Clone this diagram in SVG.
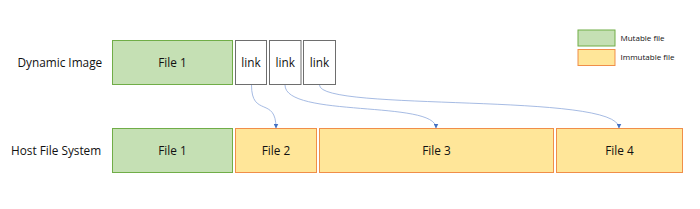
<svg xmlns="http://www.w3.org/2000/svg" width="700" height="209" viewBox="0 0 700 209">
<style>
text{font-family:"Open Sans","Liberation Sans",sans-serif;fill:#111}
.lbl{font-size:11.8px}
.ft{font-size:11.8px;text-anchor:middle}
.mut{fill:#C5E0B4;stroke:#70AD47;stroke-width:1}
.imm{fill:#FFE699;stroke:#ED7D31;stroke-width:1;stroke-opacity:0.85}
.lnk{fill:#fff;stroke:#6e6e6e;stroke-width:1}
.con{fill:none;stroke:#8FAADC;stroke-width:0.8;marker-end:url(#ah)}
.leg{font-size:8px}
</style>
<defs>
<marker id="ah" viewBox="0 0 10 10" refX="9" refY="5" markerWidth="5" markerHeight="5" orient="auto" markerUnits="userSpaceOnUse">
<path d="M0,0 L10,5 L0,10 z" fill="#4472C4"/>
</marker>
</defs>
<rect width="700" height="209" fill="#fff"/>
<text class="lbl" x="17.5" y="67">Dynamic Image</text>
<text class="lbl" x="11" y="155">Host File System</text>
<g id="top-file1"><rect class="mut" x="112.5" y="40.5" width="120" height="44"/><text class="ft" x="172.5" y="66.5">File 1</text></g>
<g id="link1"><rect class="lnk" x="235.5" y="40.5" width="31" height="44"/><text class="ft" x="251" y="66.5">link</text></g>
<g id="link2"><rect class="lnk" x="269.5" y="40.5" width="31.5" height="44"/><text class="ft" x="285.2" y="66.5">link</text></g>
<g id="link3"><rect class="lnk" x="303.5" y="40.5" width="32" height="44"/><text class="ft" x="319.5" y="66.5">link</text></g>
<g id="host-file1"><rect class="mut" x="112.5" y="128.5" width="120" height="44"/><text class="ft" x="172.5" y="155">File 1</text></g>
<g id="file2"><rect class="imm" x="235.5" y="128.5" width="81" height="44"/><text class="ft" x="276" y="155">File 2</text></g>
<g id="file3"><rect class="imm" x="319.5" y="128.5" width="234" height="44"/><text class="ft" x="436.5" y="155">File 3</text></g>
<g id="file4"><rect class="imm" x="556.5" y="128.5" width="126" height="44"/><text class="ft" x="619.5" y="155">File 4</text></g>
<g id="legend">
<rect class="mut" x="578" y="30" width="37" height="16"/>
<text class="leg" x="620.5" y="40.5">Mutable file</text>
<rect class="imm" x="578" y="49.5" width="37" height="16"/>
<text class="leg" x="620.5" y="59.5">Immutable file</text>
</g>
<g id="connectors">
<path class="con" d="M251.5,85 C251.5,118 276,96 276,128"/>
<path class="con" d="M285,85 C285,118 436,100 436,128"/>
<path class="con" d="M319.5,85 C319.5,112 619,92 619,128"/>
</g>
</svg>
